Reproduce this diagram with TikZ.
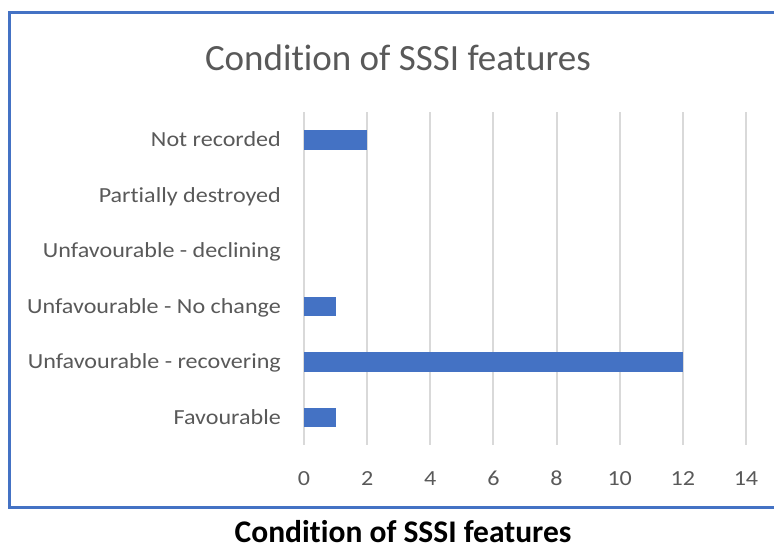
\documentclass[tikz,border=0pt]{standalone}
\usepackage{fontspec}
\setmainfont[Ligatures=NoCommon]{Carlito}
\newfontfamily\lblfont[FakeStretch=1.12,Ligatures=NoCommon]{Carlito}
\definecolor{barblue}{HTML}{4472C4}
\definecolor{gridgray}{HTML}{D9D9D9}
\definecolor{txtgray}{HTML}{595959}
\begin{document}
\begin{tikzpicture}[x=1pt,y=-1pt,
  catlabel/.style={anchor=base east,text=txtgray,font=\lblfont\fontsize{21.5}{24}\selectfont,inner sep=0pt},
  ticklabel/.style={anchor=base,text=txtgray,font=\lblfont\fontsize{21.5}{24}\selectfont,inner sep=0pt},
  gridline/.style={draw=gridgray,line width=2pt},
  bar/.style={fill=barblue,draw=none}]
\useasboundingbox (0,0) rectangle (774,547);
% frame (right side cut off)
\draw[barblue,line width=3pt] (774,12.5) -- (9.5,12.5) -- (9.5,507.5) -- (774,507.5);
% title
\node[anchor=base,text=txtgray,font=\fontsize{37}{40}\selectfont,inner sep=0pt] (title) at (398,70) {Condition of SSSI features};
% gridlines
\foreach \v in {0,2,...,14}{
  \draw[gridline] ({304+31.57*\v},112) -- ({304+31.57*\v},445);
  \node[ticklabel] (t\v) at ({304+31.57*\v},485) {\v};
}
% categories
\foreach \i/\lab in {0/Not recorded,1/Partially destroyed,2/Unfavourable - declining,3/Unfavourable - No change,4/Unfavourable - recovering,5/Favourable}{
  \node[catlabel] (c\i) at (281,{112+55.5*(\i+0.5)+7}) {\lab};
}
% bars
\foreach \i/\val in {0/2,3/1,4/12,5/1}{
  \path[bar] (304,{112+55.5*(\i+0.5)-9.75}) rectangle ({304+31.57*\val},{112+55.5*(\i+0.5)+9.75});
}
% caption
\node[anchor=base,font=\bfseries\fontsize{31.5}{34}\selectfont,inner sep=0pt] (cap) at (403,542) {Condition of SSSI features};
\end{tikzpicture}
\end{document}
